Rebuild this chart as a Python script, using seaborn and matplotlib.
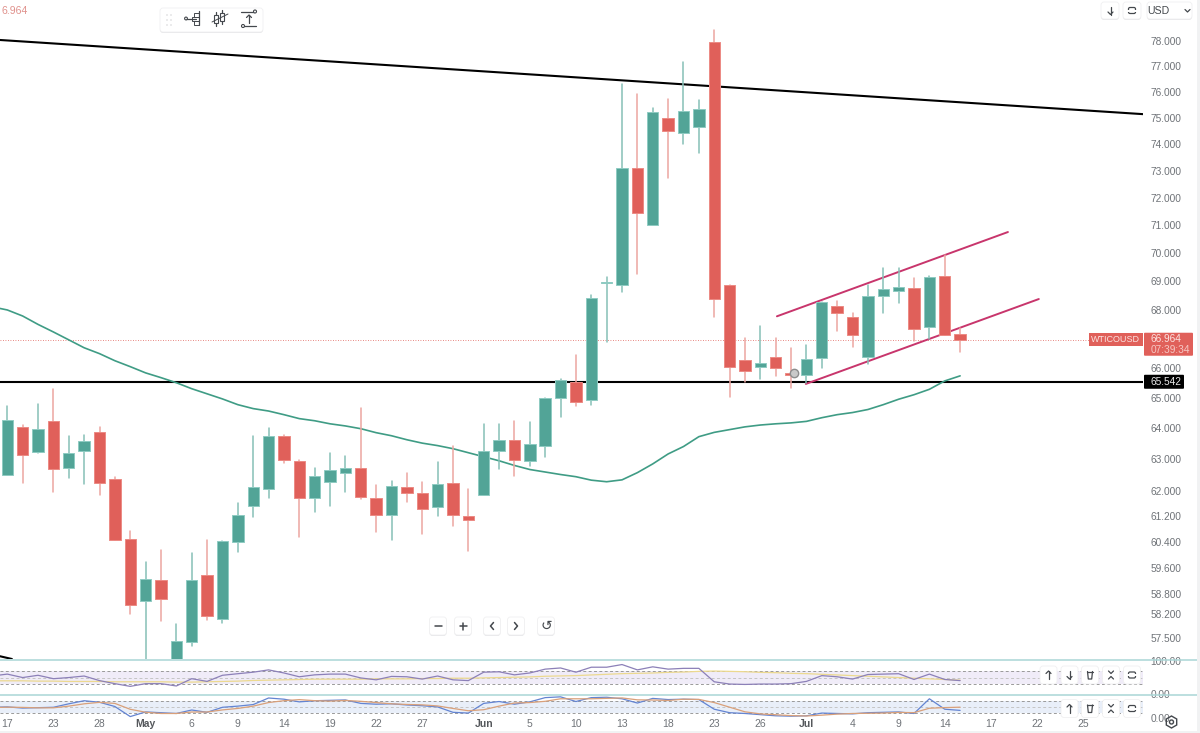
import matplotlib
matplotlib.use("Agg")
import matplotlib.pyplot as plt
import numpy as np
import pandas as pd
import seaborn as sns
from matplotlib.patches import FancyBboxPatch, Rectangle, Circle, RegularPolygon

# ---------- data ----------
highs = [64.72,64.10,64.81,65.31,63.74,63.79,64.06,62.42,60.74,59.78,60.15,57.93,60.04,60.45,60.43,61.62,63.74,64.01,63.77,62.98,
         62.72,63.20,63.11,64.67,62.19,62.29,62.55,62.27,62.90,63.44,62.05,64.15,64.14,64.23,64.22,65.01,65.63,66.45,68.52,69.16,
         76.31,75.92,75.36,75.72,77.15,75.69,78.43,68.87,67.02,67.42,67.04,66.67,66.78,68.28,68.31,67.88,68.87,69.45,69.45,69.12,
         69.19,69.93,67.37]
body_tops = [64.26,64.04,63.98,64.25,63.19,63.59,63.89,62.37,60.48,59.26,59.24,57.41,59.22,59.38,60.43,61.22,62.10,63.74,63.74,62.95,
             62.47,62.64,62.72,62.72,61.76,62.16,62.11,61.93,62.22,62.23,61.19,63.28,63.61,63.63,63.48,65.00,65.61,65.55,68.42,68.97,
             73.09,73.09,75.23,75.00,75.26,75.34,77.97,68.86,66.28,66.17,66.39,65.84,66.32,68.27,68.14,67.73,68.48,68.73,68.79,68.75,
             69.14,69.18,67.16]
body_bottoms = [62.50,63.14,63.22,62.69,62.72,63.25,62.24,60.46,58.49,58.60,58.66,56.50,57.39,58.14,58.05,60.40,61.52,62.06,62.97,61.78,
                61.78,62.28,62.57,61.80,61.23,61.22,61.92,61.43,61.47,61.24,61.06,61.87,63.26,62.98,62.95,63.44,65.01,64.88,64.94,68.95,
                68.86,71.45,71.00,74.51,74.42,74.64,68.37,66.04,65.92,66.05,66.00,65.77,65.78,66.33,67.88,67.13,66.36,68.48,68.64,67.33,
                67.40,67.13,66.964]
lows = [62.48,62.24,63.21,61.94,62.40,62.21,61.85,60.45,58.21,56.60,58.00,56.30,57.27,58.02,57.94,60.08,61.16,61.78,62.88,60.55,
        61.34,61.50,61.97,61.74,60.69,60.45,61.63,60.64,61.21,60.89,60.13,61.86,62.68,62.45,62.77,63.06,64.38,64.74,64.78,66.87,
        68.63,69.25,70.99,72.74,74.02,73.65,67.73,65.03,65.55,65.64,65.72,65.35,65.50,65.99,67.25,66.73,66.15,67.88,68.23,66.92,
        67.00,67.11,66.55]
is_up = [1,0,1,0,1,1,0,0,0,1,0,1,1,0,1,1,1,1,0,0,
         1,1,1,0,0,1,0,0,1,0,0,1,1,0,1,1,1,0,1,1,
         1,0,1,0,1,1,0,0,0,1,0,0,1,1,0,0,1,1,1,0,
         1,0,0]
ma_line = [68.10,67.99,67.78,67.49,67.23,66.96,66.69,66.49,66.25,66.05,65.84,65.68,65.51,65.31,65.14,64.97,64.78,64.65,64.57,64.45,
           64.32,64.25,64.15,64.08,63.99,63.86,63.76,63.63,63.52,63.44,63.34,63.21,63.08,62.95,62.80,62.67,62.59,62.51,62.44,62.33,
           62.28,62.34,62.57,62.85,63.17,63.41,63.73,63.87,63.96,64.05,64.11,64.15,64.18,64.23,64.35,64.45,64.52,64.62,64.78,64.96,
           65.11,65.29,65.57,65.74]
rsi_line = [54.7,60.6,50,57,46.5,50,54.7,40.6,31.2,22.9,31.2,31.2,24.1,46.5,38.2,57,61.8,66.5,73.6,64.1,
            52.4,58.3,60.6,60.6,48.8,43,53.5,52.4,45.3,54.7,43,40.6,66.5,67.7,58.3,64.1,75.9,79.5,66.5,81.8,
            81.8,90,73.6,83,75.9,78.3,78.3,37,30,28.8,30,30,31.2,38.2,55.9,52.4,45.3,59.4,60.6,61.8,
            44.1,60.6,44.1,40.6]
rsi_signal = [40,40,40,39,39,38,38,38,37,37,37,37,36,36,37,38,39,41,42,43,
              44,45,45,45,45,46,46,46,47,47,48,48,49,50,51,52,54,55,56,58,
              60,62,63,64,66,67,69,70,69,68,66,65,63,62,60,58,56,54,52,50,
              48,46,44,42]
stoch_k = [49.5,51.3,45.8,47.7,49.5,66,80.8,73.4,53.2,5.3,27.4,23.7,20,36.6,25.6,49.5,55,62.4,93.7,88.1,
           75.3,80.8,82.6,84.5,68,64.2,66,60.5,56.9,51.3,25.6,21.9,68,77.1,64.2,75.3,95.5,99.2,77.1,95.5,
           97.3,90,69.7,91.8,86.3,88.1,86.3,40.3,23.7,20,14.5,9,7.2,9,21.9,20,18.2,23.7,25.6,27.4,
           20,90,40.3,34.8]
stoch_d = [48,50,49,47,47,55,66,73,68,40,26,20,20,27,27,37,44,55,72,81,
           86,81,79,82,78,72,66,63,61,56,44,33,38,55,70,72,78,90,90,90,
           92,94,85,84,82,88,87,72,50,28,18,14,10,8,12,17,20,21,22,25,
           24,45,48,50]
price_ticks = [78,77,76,75,74,73,72,71,70,69,68,66,65,64,63,62,61.2,60.4,59.6,58.8,58.2,57.5]
date_labels = ["17","23","28","May","6","9","14","19","22","27","Jun","5","10","13","18","23","26","Jul","4","9","14","17","22","25"]
date_pos = [0,3,6,9,12,15,18,21,24,27,31,34,37,40,43,46,49,52,55,58,61,64,67,70]
month_names = ["May", "Jun", "Jul"]
last_price = 66.964
support = 65.542
resistance_x, resistance_y = [-0.475, 73.9], [78.04, 75.14]
corner_x, corner_y = [-0.475, 0.3], [56.97, 56.89]
channel_up_x, channel_up_y = [50.08, 65.11], [67.77, 70.75]
channel_lo_x, channel_lo_y = [51.96, 67.12], [65.47, 68.37]
marker_x, marker_y = [51.2], [65.83]

# ---------- styling ----------
TEAL, RED = "#52a497", "#e0605a"
TEAL_W, RED_W = "#86c0b7", "#ec a5a1".replace(" ", "")
PINK, GREEN = "#c8356c", "#3f9c85"
GREY = "#6f7378"
sns.set_theme(style="white", rc={"font.family": "Liberation Sans", "axes.edgecolor": "none"})
W, H = 1200, 733
fig = plt.figure(figsize=(W / 100, H / 100), dpi=100, facecolor="white")

def box(l, t, r, b):
    return [l / W, 1 - b / H, (r - l) / W, (b - t) / H]

XMIN, XMAX = -0.475, 73.9
ax = fig.add_axes(box(0, 0, 1143, 659))
ax.set_yscale("log")

idx = np.arange(len(highs))
hl = np.array(highs); tp = np.array(body_tops); bt = np.array(body_bottoms); lw = np.array(lows)
up = np.array(is_up, dtype=bool)

# reference lines
common = dict(ax=ax, estimator=None, legend=False, zorder=1, sort=False)
sns.lineplot(x=resistance_x, y=resistance_y, color="black", linewidth=1.5, **common)
sns.lineplot(x=corner_x, y=corner_y, color="black", linewidth=1.5, **common)
sns.lineplot(x=[XMIN, XMAX], y=[support, support], color="black", linewidth=1.5, **common)
sns.lineplot(x=[XMIN, XMAX], y=[last_price, last_price], color=RED, linewidth=0.6, linestyle=(0, (1, 2)), **common)
sns.lineplot(x=np.arange(-1, 63), y=ma_line, color=GREEN, linewidth=1.2, **common)
sns.lineplot(x=channel_up_x, y=channel_up_y, color=PINK, linewidth=1.4, **common)
sns.lineplot(x=channel_lo_x, y=channel_lo_y, color=PINK, linewidth=1.4, **common)

# wicks
for mask, col in ((up, TEAL_W), (~up, RED_W)):
    w = pd.DataFrame({"i": np.r_[idx[mask], idx[mask]], "p": np.r_[lw[mask], hl[mask]]})
    sns.lineplot(data=w, x="i", y="p", units="i", estimator=None, color=col, linewidth=1.1,
                 legend=False, ax=ax, zorder=2)

# bodies
for mask, col, edge in ((up, TEAL, "#8fcbc2"), (~up, RED, "#ec8a84")):
    sns.barplot(x=idx[mask], y=tp[mask] - bt[mask], bottom=bt[mask], native_scale=True, color=col,
                saturation=1, width=0.74, errorbar=None, edgecolor=edge, linewidth=0.7,
                ax=ax, zorder=3)

ax.plot(marker_x, marker_y, "o", ms=6, mfc="#c9c9c9", mec="#8d8d8d", mew=1, zorder=5)

ax.set_xlim(XMIN, XMAX)
ax.set_ylim(56.89, 79.65)
ax.set_xlabel(""); ax.set_ylabel("")
ax.yaxis.tick_right()
ax.set_yticks(price_ticks, labels=[f"{t:.3f}" for t in price_ticks])
ax.set_yticks([], minor=True)
ax.tick_params(axis="y", which="both", length=0, pad=5.5, labelsize=7.3, labelcolor=GREY)
ax.set_xticks([])
sns.despine(ax=ax, left=True, bottom=True, right=True, top=True)

# ---------- indicator panes ----------
def pane(rect, ylim, fill, bands, label_vals):
    a = fig.add_axes(rect)
    a.axhspan(bands[0], bands[-1], color=fill, zorder=0, lw=0)
    for k, b in enumerate(bands):
        a.axhline(b, color="#9a9a9a" if k != 1 else "#c4c4c4", lw=0.7, ls=(0, (3, 2.5)), zorder=1)
    a.set_xlim(XMIN, XMAX); a.set_ylim(*ylim)
    a.yaxis.tick_right()
    a.set_yticks(label_vals, labels=[f"{v:.2f}" for v in label_vals])
    a.tick_params(axis="y", length=0, pad=5.5, labelsize=7.3, labelcolor=GREY)
    sns.despine(ax=a, left=True, bottom=True, right=True, top=True)
    return a

ind_x = np.arange(-1, 63)
p1 = pane(box(0, 660, 1143, 694), (-0.6, 104), "#f0ecf8", [30, 50, 70], [0, 100])
sns.lineplot(x=ind_x, y=rsi_signal, color="#ecd98f", linewidth=0.9, ax=p1, legend=False, zorder=2)
sns.lineplot(x=ind_x, y=rsi_line, color="#8c80b8", linewidth=0.9, ax=p1, legend=False, zorder=3)
p1.set_xticks([])

p2 = pane(box(0, 695, 1143, 718), (-1.5, 108), "#e9eff9", [20, 50, 80], [0])
sns.lineplot(x=ind_x, y=stoch_k, color="#6384d2", linewidth=0.9, ax=p2, legend=False, zorder=2)
sns.lineplot(x=ind_x, y=stoch_d, color="#d9a07a", linewidth=0.9, ax=p2, legend=False, zorder=3)
p2.set_xticks(date_pos, labels=date_labels)
p2.tick_params(axis="x", length=0, pad=0.5, labelsize=7.5, labelcolor=GREY)
for t in p2.get_xticklabels():
    if t.get_text() in month_names:
        t.set_fontweight("bold"); t.set_color("#55585c")

# ---------- overlay furniture in pixel coordinates ----------
ov = fig.add_axes([0, 0, 1, 1], zorder=10)
ov.set_xlim(0, W); ov.set_ylim(H, 0); ov.axis("off"); ov.patch.set_alpha(0)

def ypx(v):
    return H - ax.transData.transform((0, v))[1]

INK = "#44484d"
def line(xs, ys, c=INK, lw=0.9, **k):
    ov.plot(xs, ys, color=c, lw=lw, solid_capstyle="round", **k)

def button(l, t, r, b, rad=3, shadow=True):
    if shadow:
        ov.add_patch(FancyBboxPatch((l, t + 1), r - l, b - t, boxstyle=f"round,pad=0,rounding_size={rad}",
                                    fc="#e6e7e9", ec="none", zorder=1))
    ov.add_patch(FancyBboxPatch((l, t), r - l, b - t, boxstyle=f"round,pad=0,rounding_size={rad}",
                                fc="white", ec="#f0f0f1", lw=0.6, zorder=2))

def glyph(x, y, s, size=9, c=INK, **k):
    ov.text(x, y, s, ha="center", va="center", fontsize=size, color=c, zorder=4, **k)

def frame_icon(x, y):
    ov.add_patch(FancyBboxPatch((x - 3.5, y - 3), 7, 6, boxstyle="round,pad=0,rounding_size=1.5", fc="none", ec=INK, lw=0.9, zorder=4))
    ov.add_patch(Rectangle((x - 5, y - 1), 10, 2, fc="white", ec="none", zorder=5))

def trash_icon(x, y):
    line([x - 3, x + 3], [y - 3.5, y - 3.5], zorder=4)
    line([x - 2.5, x - 1.7, x + 1.7, x + 2.5], [y - 3.5, y + 4, y + 4, y - 3.5], zorder=4)

def collapse_icon(x, y):
    line([x - 2.5, x, x + 2.5], [y - 4, y - 1.5, y - 4], zorder=4)
    line([x - 2.5, x, x + 2.5], [y + 4, y + 1.5, y + 4], zorder=4)

def arrow_icon(x, y, down=False):
    s = 1 if down else -1
    line([x, x], [y - 4, y + 4], zorder=4)
    line([x - 2.5, x, x + 2.5], [y + s * 1.5, y + s * 4, y + s * 1.5], zorder=4)

# top-left clipped price
ov.text(1, 10.5, "6.964", color="#e0918c", fontsize=7.6, va="center", ha="left")

# drawing toolbar
button(160, 8, 263, 32)
for gx in (167, 171):
    for gy in (15, 20, 25):
        ov.add_patch(Circle((gx, gy), 0.8, fc="#d8d9db", ec="none", zorder=4))
line([186, 196], [18.5, 18.5], zorder=4)
ov.add_patch(Circle((186, 18.5), 1.4, fc="white", ec=INK, lw=0.8, zorder=5))
for y0, x0 in ((13, 194), (17, 192), (21, 194)):
    ov.add_patch(Rectangle((x0, y0), 199 - x0, 3.5, fc="none", ec=INK, lw=0.7, zorder=4))
line([199, 199], [11, 25], zorder=4)
for cx, y1, y2 in ((216, 15, 23), (222, 13, 21)):
    line([cx, cx], [y1 - 3, y2 + 3], zorder=4)
    ov.add_patch(Rectangle((cx - 2, y1), 4, y2 - y1, fc="white", ec=INK, lw=0.8, zorder=5))
line([212, 228], [22, 14], zorder=6, lw=0.7)
line([241, 254], [11.5, 11.5], zorder=4)
line([243, 256], [26, 26], zorder=4)
ov.add_patch(Circle((255, 11.5), 1.5, fc="white", ec=INK, lw=0.8, zorder=5))
ov.add_patch(Circle((243, 26), 1.5, fc="white", ec=INK, lw=0.8, zorder=5))
arrow_icon(249, 19)

# top-right controls
button(1101, 2, 1119, 19)
arrow_icon(1110.5, 10.5, down=True)
button(1123, 2, 1141, 19)
frame_icon(1132, 10.5)
button(1147, 2, 1192, 19)
glyph(1158, 10.5, "USD", size=7.6)
line([1185, 1187.5, 1190], [9.5, 12, 9.5], zorder=4)

# zoom / pan controls
for cx in (438, 463, 492, 516, 546):
    button(cx - 8.5, 617, cx + 8.5, 635)
line([434.5, 441.5], [626, 626], zorder=4, lw=1.1)
line([459.5, 466.5], [626, 626], zorder=4, lw=1.1)
line([463, 463], [622.5, 629.5], zorder=4, lw=1.1)
line([493.5, 490.5, 493.5], [622.5, 626, 629.5], zorder=4, lw=1.1)
line([514.5, 517.5, 514.5], [622.5, 626, 629.5], zorder=4, lw=1.1)
glyph(546, 626, "\u21ba", size=10, family="DejaVu Sans")

# separators of the panes
for y in (659.5, 694.5):
    line([0, 1197], [y, y], c="#a9d6d6", lw=1.1, zorder=3)

# pane buttons
def pane_buttons(y, kinds):
    for cx, kind in kinds:
        button(cx - 8.5, y - 9, cx + 8.5, y + 9, shadow=False)
        if kind == "up": arrow_icon(cx, y)
        elif kind == "down": arrow_icon(cx, y, down=True)
        elif kind == "trash": trash_icon(cx, y)
        elif kind == "collapse": collapse_icon(cx, y)
        else: frame_icon(cx, y)

pane_buttons(675, [(1048.5, "up"), (1069.5, "down"), (1090, "trash"), (1111, "collapse"), (1132, "frame")])
pane_buttons(708.5, [(1069.5, "up"), (1090, "trash"), (1111, "collapse"), (1132, "frame")])

# price flags tied to the values
yl = ypx(last_price)
ov.add_patch(Rectangle((1089, yl - 7), 53.5, 13.5, fc=RED, ec="none", zorder=3))
ov.text(1115.5, yl - 0.3, "WTICOUSD", color="#fbe3e1", fontsize=6.5, ha="center", va="center", zorder=4)
ov.add_patch(FancyBboxPatch((1144, yl - 7), 49, 23, boxstyle="round,pad=0,rounding_size=1", fc=RED, ec="none", zorder=3))
ov.text(1150.5, yl - 0.3, f"{last_price:.3f}", color="#fbe3e1", fontsize=7.3, ha="left", va="center", zorder=4)
ov.text(1150.5, yl + 10.5, "07:39:34", color="#f6c8c4", fontsize=7.3, ha="left", va="center", zorder=4)
ys = ypx(support)
ov.add_patch(FancyBboxPatch((1144, ys - 7), 40, 14, boxstyle="round,pad=0,rounding_size=1", fc="black", ec="none", zorder=3))
ov.text(1150.5, ys - 0.2, f"{support:.3f}", color="#e8e8e8", fontsize=7.3, ha="left", va="center", zorder=4)

# settings cog
ov.add_patch(RegularPolygon((1171.5, 722), 6, radius=6, fc="none", ec=INK, lw=1, zorder=4))
ov.add_patch(Circle((1171.5, 722), 2, fc="none", ec=INK, lw=1, zorder=4))

# window edge
ov.add_patch(Rectangle((1197, 0), 3, H, fc="#f1f2f3", ec="none", zorder=6))
ov.add_patch(Rectangle((0, 731), W, 2, fc="#f1f2f3", ec="none", zorder=6))

fig.savefig("out.png", dpi=100, facecolor="white")
